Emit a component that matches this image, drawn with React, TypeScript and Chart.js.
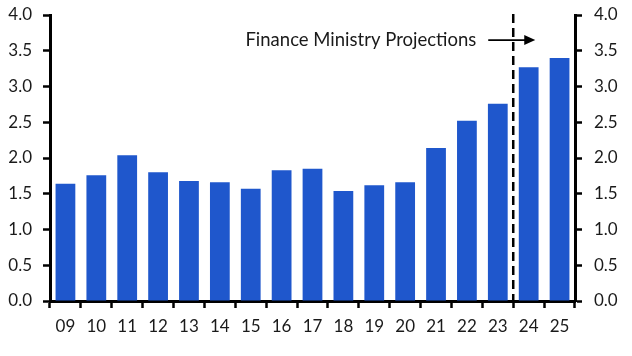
import React, { useEffect, useRef } from "react";
import { Chart, registerables } from "chart.js";

Chart.register(...registerables);

const categories = ["09", "10", "11", "12", "13", "14", "15", "16", "17", "18", "19", "20", "21", "22", "23", "24", "25"];
const values = [1.64, 1.76, 2.04, 1.8, 1.68, 1.66, 1.57, 1.83, 1.85, 1.54, 1.62, 1.66, 2.14, 2.52, 2.76, 3.27, 3.4];
const yTicks = [0, 0.5, 1, 1.5, 2, 2.5, 3, 3.5, 4];
const annotationText = "Finance Ministry Projections";
const projectionStartIndex = 15;

const FONT = "Lato, 'Noto Sans', sans-serif";

const annotationPlugin = {
  id: "projAnnot",
  afterDatasetsDraw(chart: any) {
    const { ctx, chartArea, scales } = chart;
    const x = scales.x;
    const xPos = (x.getPixelForValue(projectionStartIndex - 1) + x.getPixelForValue(projectionStartIndex)) / 2;
    ctx.save();
    ctx.strokeStyle = "#000";
    ctx.lineWidth = 2.5;
    ctx.setLineDash([9, 5]);
    ctx.beginPath();
    ctx.moveTo(xPos, chartArea.top - 1);
    ctx.lineTo(xPos, chartArea.bottom);
    ctx.stroke();
    ctx.setLineDash([]);
    const yT = scales.y.getPixelForValue(3.65);
    ctx.font = `18.5px ${FONT}`;
    ctx.fillStyle = "#1a1a1a";
    ctx.textAlign = "right";
    ctx.textBaseline = "middle";
    ctx.fillText(annotationText, xPos - 37, yT);
    const ax0 = xPos - 25;
    const ax1 = xPos + 22;
    ctx.lineWidth = 1.8;
    ctx.beginPath();
    ctx.moveTo(ax0, yT);
    ctx.lineTo(ax1 - 8, yT);
    ctx.stroke();
    ctx.beginPath();
    ctx.moveTo(ax1, yT);
    ctx.lineTo(ax1 - 11, yT - 5);
    ctx.lineTo(ax1 - 11, yT + 5);
    ctx.closePath();
    ctx.fillStyle = "#000";
    ctx.fill();
    ctx.restore();
  },
};

export default function App() {
  const ref = useRef<HTMLCanvasElement>(null);
  useEffect(() => {
    document.body.style.margin = "0";
    const yAxisCommon = (pos: "left" | "right", width: number, pad: number) => ({
      position: pos,
      min: 0,
      max: 4,
      afterBuildTicks: (axis: any) => {
        axis.ticks = yTicks.map((v) => ({ value: v }));
      },
      afterFit: (axis: any) => {
        axis.width = width;
        axis.paddingTop = 0;
        axis.paddingBottom = 0;
      },
      border: { display: true, color: "#000", width: 3 },
      grid: { drawOnChartArea: false, drawTicks: true, tickLength: 7, tickWidth: 2.5, tickColor: "#000" },
      ticks: {
        color: "#1a1a1a",
        font: { family: FONT, size: 17 },
        padding: pad,
        callback: (v: any) => Number(v).toFixed(1),
      },
    });
    const chart = new Chart(ref.current!, {
      type: "bar",
      data: {
        labels: categories,
        datasets: [
          {
            data: values,
            backgroundColor: "#1f57cc",
            barPercentage: 0.64,
            categoryPercentage: 1,
          },
        ],
      },
      options: {
        animation: false,
        responsive: false,
        layout: { padding: { top: 15, bottom: 0, left: 0, right: 0 } },
        plugins: { legend: { display: false }, tooltip: { enabled: false } },
        scales: {
          x: {
            offset: true,
            afterFit: (axis: any) => {
              axis.height = 55;
              axis.paddingLeft = 0;
              axis.paddingRight = 0;
            },
            border: { display: true, color: "#000", width: 3 },
            grid: { offset: true, drawOnChartArea: false, drawTicks: true, tickLength: 7, tickWidth: 2.5, tickColor: "#000" },
            ticks: { color: "#1a1a1a", font: { family: FONT, size: 17 }, padding: 8, maxRotation: 0, autoSkip: false },
          },
          y: yAxisCommon("left", 50, 11) as any,
          y2: yAxisCommon("right", 57, 12) as any,
        },
      },
      plugins: [annotationPlugin],
    });
    return () => chart.destroy();
  }, []);
  return (
    <div style={{ width: 632, height: 356 }}>
      <canvas ref={ref} width={632} height={356} style={{ display: "block" }} />
    </div>
  );
}
